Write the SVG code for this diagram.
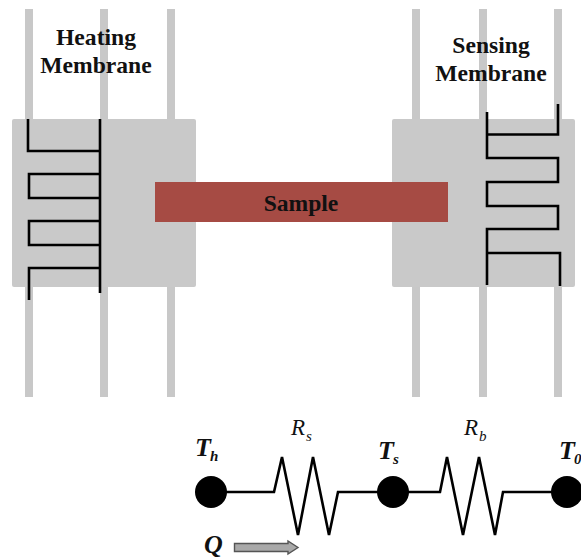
<svg xmlns="http://www.w3.org/2000/svg" width="581" height="560" viewBox="0 0 581 560">
<style>
.leg{fill:#c8c8c8}
.mem{fill:#c9c9c9}
.wire{fill:none;stroke:#000;stroke-width:2.6;stroke-linejoin:miter}
.lbl{font-family:"Liberation Serif",serif;font-weight:bold;font-size:23.6px;fill:#111;text-anchor:middle}
.sym{font-family:"Liberation Serif",serif;font-style:italic;fill:#111}
.b{font-weight:bold}
</style>
<rect width="581" height="560" fill="#fff"/>
<g id="heating-membrane">
<rect class="leg" x="25" y="9" width="8" height="388"/>
<rect class="leg" x="100" y="9" width="8" height="388"/>
<rect class="leg" x="167" y="9" width="8" height="388"/>
<rect class="mem" x="12" y="119" width="184" height="168" rx="2"/>
<path class="wire" d="M28 119V151H100M100 119V293M100 174H29V198H100M100 221H29V245H100M100 268H29V300"/>
<text class="lbl" x="96" y="45">Heating</text>
<text class="lbl" x="96" y="73">Membrane</text>
</g>
<g id="sensing-membrane">
<rect class="leg" x="412" y="9" width="8" height="388"/>
<rect class="leg" x="479" y="9" width="8" height="388"/>
<rect class="leg" x="554" y="9" width="8" height="388"/>
<rect class="mem" x="392" y="119" width="183" height="168" rx="2"/>
<path class="wire" d="M487 112V158H558V182H487V206H558V229H487V285M558 104V134.500H487M487 253H560V286"/>
<text class="lbl" x="491" y="53">Sensing</text>
<text class="lbl" x="491" y="81">Membrane</text>
</g>
<g id="sample">
<rect x="155" y="182" width="293" height="40" fill="#a64b44"/>
<text class="lbl" x="301" y="211">Sample</text>
</g>
<g id="connectors">
<path fill="none" stroke="#000" stroke-width="2.600" d="M211 492H274L282 457L298 535L313 457L329 535L338 492H440L447 457L463 535L479 457L495 535L503 492H567"/>
<path d="M234.500 543.500H288V541L298 547.500L288 554V551.500H234.500Z" fill="#a9a9a9" stroke="#555" stroke-width="1.400"/>
</g>
<g id="node-th">
<circle cx="211" cy="492" r="16"/>
<text class="sym b" x="195" y="456" font-size="26">T</text>
<text class="sym b" x="210" y="461" font-size="15">h</text>
</g>
<g id="node-ts">
<circle cx="393" cy="492" r="16"/>
<text class="sym b" x="378" y="459" font-size="26">T</text>
<text class="sym b" x="393" y="464" font-size="15">s</text>
</g>
<g id="node-t0">
<circle cx="567" cy="492" r="16"/>
<text class="sym b" x="559" y="459" font-size="26">T</text>
<text class="sym b" x="574" y="464" font-size="15">0</text>
</g>
<g id="resistor-rs">
<text class="sym" x="291" y="435" font-size="23">R</text>
<text class="sym" x="306" y="441" font-size="15">s</text>
</g>
<g id="resistor-rb">
<text class="sym" x="464" y="435" font-size="23">R</text>
<text class="sym" x="479" y="441" font-size="15">b</text>
</g>
<g id="heat-flow">
<text class="sym b" x="204" y="553" font-size="26">Q</text>
</g>
</svg>
